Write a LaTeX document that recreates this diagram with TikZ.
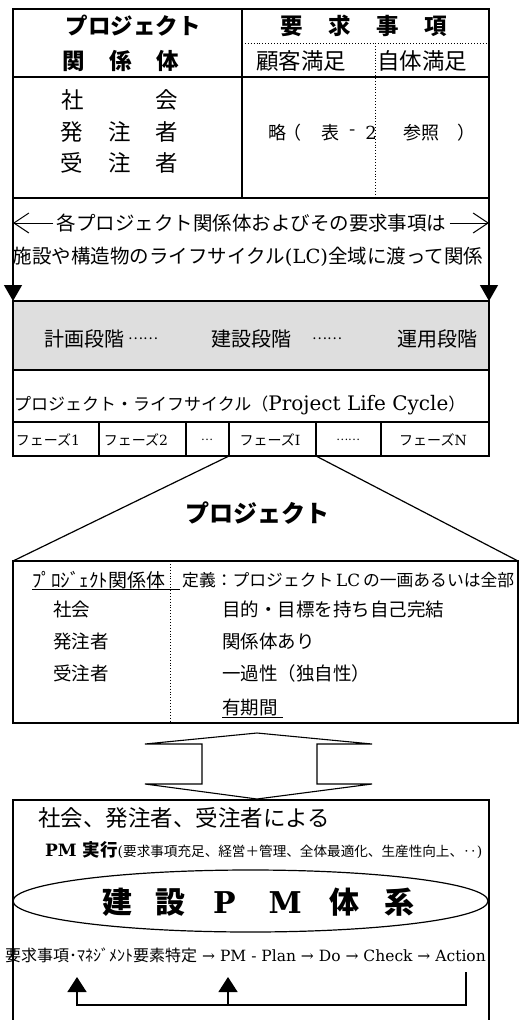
\documentclass[tikz,border=0pt]{standalone}
\usepackage{fontspec}
\setmainfont{DejaVu Serif}
\newfontfamily\cjk{Noto Sans CJK JP}
\usetikzlibrary{arrows.meta,shapes.geometric}
\newcommand\FS[1]{\fontsize{#1}{#1}\selectfont}
\begin{document}
\begin{tikzpicture}[x=1pt,y=-1pt,
  frame/.style={line width=1.2pt},
  dotl/.style={dotted,line width=0.9pt},
  jp/.style={font=\cjk,inner sep=0pt},
  lt/.style={font=\rmfamily,inner sep=0pt},
  cell/.style={draw,line width=1.2pt,rectangle,inner sep=0pt,outer sep=0pt,anchor=north west},
  bigarrow/.style={line width=1.2pt,-{Triangle[length=16pt,width=18pt]}},
  barb/.style={line width=1pt,-{Straight Barb[length=15pt,width=20pt]}},
  fb/.style={line width=1.4pt},
  fbtip/.style={-{Triangle[length=15pt,width=19pt]}}]
\useasboundingbox (0,0) rectangle (521,1020);

% ---------- top table ----------
\node[cell,minimum width=476pt,minimum height=189pt] (top) at (13,9) {};
\draw[frame] (13,77) -- (489,77);
\draw[frame] (242,9) -- (242,198);
\draw[dotl] (242,43) -- (489,43);
\draw[dotl] (375,43) -- (375,198);

\node[jp] (h1) at (133,26) {\FS{22.5}\bfseries プロジェクト};
\node[jp] (h2) at (121,61) {\FS{22.5}\bfseries 関\hspace{24.5pt}係\hspace{24.5pt}体};
\node[jp] (h3) at (364,26) {\FS{22.5}\bfseries 要\hspace{25.5pt}求\hspace{25.5pt}事\hspace{25.5pt}項};
\node[jp] (h4) at (301,61) {\FS{22.5}顧客満足};
\node[jp] (h5) at (422,61) {\FS{22.5}自体満足};
\node[jp] (r1) at (119.5,100) {\FS{22.5}社\hspace{72pt}会};
\node[jp] (r2) at (119.5,132) {\FS{22.5}発\hspace{25pt}注\hspace{25pt}者};
\node[jp] (r3) at (119.5,163) {\FS{22.5}受\hspace{25pt}注\hspace{25pt}者};

\node[jp] (o1) at (277,133) {\FS{18}略};
\node[jp] (o2) at (292,133) {\FS{18}（};
\node[jp] (o3) at (330,133) {\FS{18}表};
\node[jp] (o4) at (353,133) {\FS{18}-};
\node[lt] (o5) at (371,133) {\FS{18}2};
\node[jp] (o6) at (421,133) {\FS{18}参照};
\node[jp] (o7) at (466,133) {\FS{18}）};

% ---------- lifecycle band ----------
\node[cell,minimum width=476pt,minimum height=69pt,fill=black!13] (band) at (13,301) {};
\draw[bigarrow] (top.south west) -- (band.north west);
\draw[bigarrow] (top.south east) -- (band.north east);

\node[jp] (m1) at (251.5,223) {\FS{19.5}各プロジェクト関係体およびその要求事項は};
\coordinate (la) at (13,223);
\coordinate (ra) at (489,223);
\draw[barb] ([xshift=-3pt]m1.west) -- (la);
\draw[barb] ([xshift=3pt]m1.east) -- (ra);
\node[jp] (m2) at (248,257) {\FS{19.5}施設や構造物のライフサイクル{\rmfamily (LC)}全域に渡って関係};

\node[jp] (b1) at (84,339) {\FS{20}計画段階};
\node[jp] (b2) at (143,339) {\FS{14}……};
\node[jp] (b3) at (251,339) {\FS{20}建設段階};
\node[jp] (b4) at (327,339) {\FS{14}……};
\node[jp] (b5) at (437,339) {\FS{20}運用段階};

\node[cell,minimum width=476pt,minimum height=52pt] (lc) at (13,370) {};
\node[jp,anchor=west] (lct) at (14,405) {\FS{17}プロジェクト・ライフサイクル（{\rmfamily\FS{20}Project Life Cycle}）};

% ---------- phases ----------
\node[cell,minimum width=86pt,minimum height=34pt] (p1) at (13,422) {};
\node[cell,minimum width=87pt,minimum height=34pt] (p2) at (99,422) {};
\node[cell,minimum width=43pt,minimum height=34pt] (p3) at (186,422) {};
\node[cell,minimum width=87pt,minimum height=34pt] (p4) at (229,422) {};
\node[cell,minimum width=65pt,minimum height=34pt] (p5) at (316,422) {};
\node[cell,minimum width=108pt,minimum height=34pt] (p6) at (381,422) {};
\node[jp] (q1) at (48,440) {\FS{14}フェーズ{\rmfamily 1}};
\node[jp] (q2) at (136,440) {\FS{14}フェーズ{\rmfamily 2}};
\node[jp] (q3) at (207,440) {\FS{11}…};
\node[jp] (q4) at (270,440) {\FS{14}フェーズ{\rmfamily I}};
\node[jp] (q5) at (348,440) {\FS{11}……};
\node[jp] (q6) at (433,440) {\FS{14}フェーズ{\rmfamily N}};

% ---------- project ----------
\node[cell,minimum width=505pt,minimum height=162pt] (pbox) at (13,561) {};
\draw[frame] (p4.south west) -- (pbox.north west);
\draw[frame] (p4.south east) -- (pbox.north east);
\node[jp] (pj) at (257,513) {\FS{24}\bfseries プロジェクト};

\draw[dotl] (170,561) -- (170,723);
\node[jp,anchor=west] (k0) at (32,580) {\FS{19}ﾌﾟﾛｼﾞｪｸﾄ関係体};
\draw[line width=0.8pt] (32,589) -- (180,589);
\node[jp,anchor=west] (d0) at (182,580) {\FS{16.8}定義：プロジェクト{\rmfamily\,LC\,}の一画あるいは全部};
\node[jp,anchor=west] (k1) at (53,609) {\FS{18.5}社会};
\node[jp,anchor=west] (k2) at (53,641) {\FS{18.5}発注者};
\node[jp,anchor=west] (k3) at (53,673) {\FS{18.5}受注者};
\node[jp,anchor=west] (d1) at (222,609) {\FS{18.5}目的・目標を持ち自己完結};
\node[jp,anchor=west] (d2) at (222,641) {\FS{18.5}関係体あり};
\node[jp,anchor=west] (d3) at (222,673) {\FS{18.5}一過性（独自性）};
\node[jp,anchor=west] (d4) at (222,707) {\FS{18.5}有期間};
\draw[line width=0.8pt] (222,717) -- (283,717);

% ---------- double arrow ----------
\draw[line width=1.1pt] (257,733) -- (372,744) -- (317,744) -- (317,784) -- (372,784)
  -- (257,799) -- (145,784) -- (202,784) -- (202,744) -- (145,744) -- cycle;

% ---------- PM box ----------
\draw[frame] (13,1020) -- (13,800) -- (489,800) -- (489,1020);
\node[jp,anchor=west] (s0) at (38,818) {\FS{22.5}社会、発注者、受注者による};
\node[jp,anchor=west] (s1) at (45,850) {{\rmfamily\FS{17}\bfseries PM }{\FS{17.5}\bfseries 実行}{\rmfamily\FS{14}(}{\FS{13.6}要求事項充足、経営＋管理、全体最適化、生産性向上、‥}{\rmfamily\FS{14})}};
\node[ellipse,draw,line width=1.2pt,minimum width=475pt,minimum height=62pt,inner sep=0pt] (pm) at (250.5,901) {};
\node[inner sep=0pt] (pmt) at (258.5,902) {{\cjk\FS{30}\bfseries 建\hspace{23pt}設}\hspace{28pt}{\FS{30}\bfseries P\hspace{33pt}M}\hspace{28pt}{\cjk\FS{30}\bfseries 体\hspace{25pt}系}};

\node[anchor=west,inner sep=0pt] (seq) at (5,955) {{\cjk\FS{16}要求事項･ﾏﾈｼﾞﾒﾝﾄ要素特定}{\FS{15.5}\ → PM - Plan → Do → Check → Action}};

\coordinate (fa) at (466,972);
\coordinate (fc) at (77,1005);
\coordinate (fm) at (228,1005);
\coordinate (t1) at (77,977);
\coordinate (t2) at (228,977);
\draw[fb,fbtip] (fa) |- (fc) -- (t1);
\draw[fb,fbtip] (fm) -- (t2);
\end{tikzpicture}
\end{document}
